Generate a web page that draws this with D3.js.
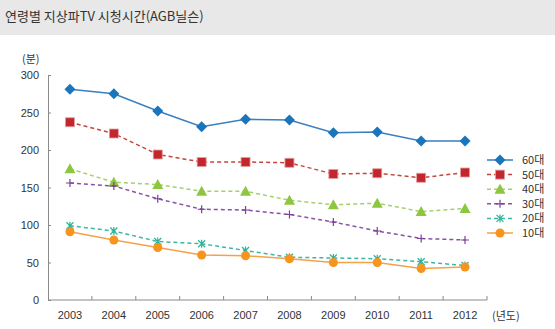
<!DOCTYPE html>
<html>
<head>
<meta charset="utf-8">
<script src="https://cdn.jsdelivr.net/npm/d3@7"></script>
<style>
    body { margin: 0; background: #fff; }
    svg { display: block; font-family: Roboto, "Noto Sans CJK KR", sans-serif; }
    .axis path, .axis line { stroke: #8a8a8a; }
    .axis text { font-size: 11px; fill: #333; }
</style>
</head>
<body>
<svg id="chart" width="555" height="329"></svg>
<script>
    const years = ["2003", "2004", "2005", "2006", "2007", "2008", "2009", "2010", "2011", "2012"];
    const groups = ["60대", "50대", "40대", "30대", "20대", "10대"];
    const yTicks = [0, 50, 100, 150, 200, 250, 300];

    const v60 = [281, 275, 252, 231, 241, 240, 223, 224, 212, 212];
    const v50 = [237, 222, 194, 184, 184, 183, 168, 169, 163, 170];
    const v40 = [175, 157, 154, 145, 145, 133, 127, 129, 118, 122];
    const v30 = [156, 152, 135, 121, 120, 114, 104, 92, 82, 80];
    const v20 = [99, 92, 78, 75, 66, 57, 56, 55, 51, 46];
    const v10 = [91, 80, 70, 60, 59, 55, 50, 50, 42, 44];

    const seriesValues = [v60, v50, v40, v30, v20, v10];
    const colors = ["#1b75bb", "#c4262e", "#8dc63f", "#7d3f98", "#2ab39a", "#f7941d"];
    const lineColors = ["#3a7fbf", "#c4463c", "#a8cf6a", "#8a52a5", "#3bb8a5", "#f4a24a"];
    const dashes = [null, "4,3", "4,3", "4,3", "4,3", null];
    const shapes = ["diamond", "square", "triangle", "plus", "star", "circle"];

    const svg = d3.select("#chart");

    // title bar
    svg.append("rect").attr("x", 0).attr("y", 0).attr("width", 555).attr("height", 35).attr("fill", "#e8e8e8");
    svg.append("text").attr("x", 5).attr("y", 21)
        .style("font-family", "'Noto Sans CJK KR', sans-serif")
        .style("font-size", "13px").attr("fill", "#333")
        .text("연령별 지상파TV 시청시간(AGB닐슨)");

    const x = d3.scaleBand().domain(years).range([48, 487]);
    const y = d3.scaleLinear().domain([0, 300]).range([300, 75]);

    svg.append("g").attr("class", "axis").attr("transform", "translate(48,0)")
        .call(d3.axisLeft(y).tickValues(yTicks).tickSize(-3).tickPadding(9))
        .call(g => g.selectAll(".tick text").attr("dy", "0.35em"));

    const xAxis = svg.append("g").attr("class", "axis").attr("transform", "translate(0,300)")
        .call(d3.axisBottom(x).tickSize(0).tickPadding(11));
    xAxis.select(".domain").attr("d", "M48,0H487");
    xAxis.selectAll(".band-tick").data(years).enter().append("line")
        .attr("x1", d => x(d) + x.bandwidth()).attr("x2", d => x(d) + x.bandwidth())
        .attr("y1", 0).attr("y2", -4).attr("stroke", "#8a8a8a");

    svg.append("text").attr("x", 22).attr("y", 63).attr("font-size", 11).attr("fill", "#333")
        .style("font-family", "'Noto Sans CJK KR', sans-serif").text("(분)");
    svg.append("text").attr("x", 492).attr("y", 320).attr("font-size", 11).attr("fill", "#333")
        .style("font-family", "'Noto Sans CJK KR', sans-serif").text("(년도)");

    function drawMarker(g, shape, color) {
        if (shape === "diamond") {
            g.append("path").attr("d", "M0,-5.5L5.5,0L0,5.5L-5.5,0Z").attr("fill", color);
        } else if (shape === "square") {
            g.append("rect").attr("x", -4.5).attr("y", -4.5).attr("width", 9).attr("height", 9)
                .attr("fill", color).attr("stroke", "#e0a0a0").attr("stroke-width", 0.8);
        } else if (shape === "triangle") {
            g.append("path").attr("d", "M0,-5.5L5.5,4.5L-5.5,4.5Z").attr("fill", color);
        } else if (shape === "plus") {
            g.append("path").attr("d", "M-4,0H4M0,-4V4").attr("stroke", color).attr("stroke-width", 1.2);
        } else if (shape === "star") {
            g.append("path").attr("d", "M-3.5,-3.5L3.5,3.5M-3.5,3.5L3.5,-3.5M0,-4V4")
                .attr("stroke", color).attr("stroke-width", 1.2);
        } else {
            g.append("circle").attr("r", 4.5).attr("fill", color);
        }
    }

    const line = d3.line().x((d, i) => x(years[i]) + x.bandwidth() / 2).y(d => y(d));

    seriesValues.forEach((vals, s) => {
        svg.append("path").datum(vals).attr("d", line)
            .attr("fill", "none").attr("stroke", lineColors[s]).attr("stroke-width", 1.5)
            .attr("stroke-dasharray", dashes[s]);
        vals.forEach((v, i) => {
            const g = svg.append("g")
                .attr("transform", `translate(${x(years[i]) + x.bandwidth() / 2},${y(v)})`);
            drawMarker(g, shapes[s], colors[s]);
        });
    });

    // legend
    const leg = svg.append("g");
    groups.forEach((name, s) => {
        const ly = 160 + s * 14.6;
        leg.append("line").attr("x1", 487).attr("x2", 513).attr("y1", ly).attr("y2", ly)
            .attr("stroke", lineColors[s]).attr("stroke-width", 1.5).attr("stroke-dasharray", dashes[s]);
        drawMarker(leg.append("g").attr("transform", `translate(500,${ly})`), shapes[s], colors[s]);
        leg.append("text").attr("x", 522).attr("y", ly).attr("dy", "0.36em")
            .attr("font-size", 11).attr("fill", "#333")
            .style("font-family", "'Noto Sans CJK KR', sans-serif").text(name);
    });
</script>
</body>
</html>
